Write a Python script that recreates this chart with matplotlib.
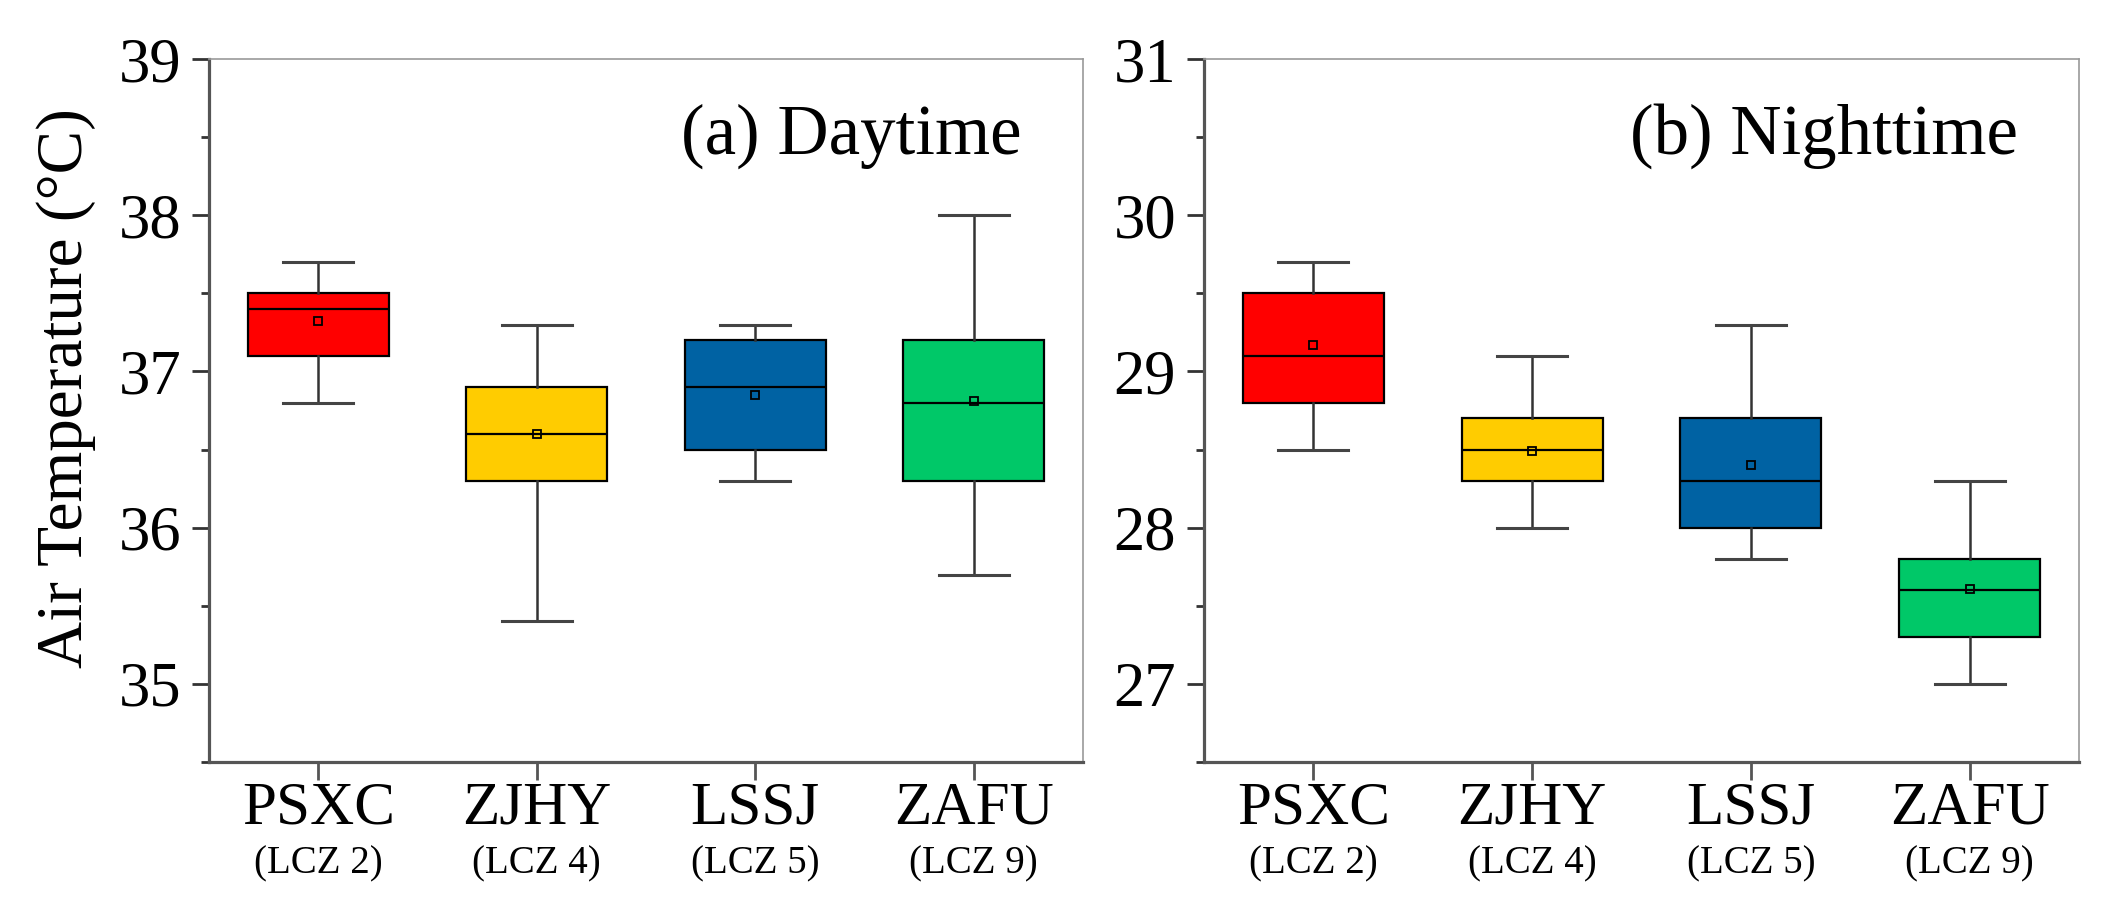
import numpy as np
import matplotlib
matplotlib.use('Agg')
import matplotlib.pyplot as plt
from matplotlib.ticker import MultipleLocator
from matplotlib.transforms import blended_transform_factory

sites = ['PSXC', 'ZJHY', 'LSSJ', 'ZAFU']
lcz = ['(LCZ 2)', '(LCZ 4)', '(LCZ 5)', '(LCZ 9)']
colors = ['#ff0000', '#ffcc00', '#0062a3', '#00c868']

# daytime box statistics (deg C)
day_low = [36.8, 35.4, 36.3, 35.7]
day_q1 = [37.1, 36.3, 36.5, 36.3]
day_med = [37.4, 36.6, 36.9, 36.8]
day_q3 = [37.5, 36.9, 37.2, 37.2]
day_high = [37.7, 37.3, 37.3, 38.0]
day_mean = [37.32, 36.60, 36.85, 36.81]

# nighttime box statistics (deg C)
night_low = [28.5, 28.0, 27.8, 27.0]
night_q1 = [28.8, 28.3, 28.0, 27.3]
night_med = [29.1, 28.5, 28.3, 27.6]
night_q3 = [29.5, 28.7, 28.7, 27.8]
night_high = [29.7, 29.1, 29.3, 28.3]
night_mean = [29.17, 28.49, 28.40, 27.61]

plt.rcParams['font.family'] = ['Liberation Serif', 'DejaVu Serif']


def make_stats(low, q1, med, q3, high, mean):
    stats = []
    for i in range(len(low)):
        stats.append({'whislo': low[i], 'q1': q1[i], 'med': med[i], 'q3': q3[i],
                      'whishi': high[i], 'mean': mean[i], 'fliers': []})
    return stats


def draw_panel(ax, stats, ylim, title):
    pos = np.arange(1, len(stats) + 1)
    bp = ax.bxp(stats, positions=pos, widths=0.645, capwidths=0.32,
                patch_artist=True, showmeans=True, showfliers=False,
                boxprops=dict(edgecolor='black', linewidth=1.6),
                medianprops=dict(color='black', linewidth=1.6),
                whiskerprops=dict(color='#333333', linewidth=1.8),
                capprops=dict(color='#444444', linewidth=2.2),
                meanprops=dict(marker='s', markersize=5.5, markerfacecolor='none',
                               markeredgecolor='black', markeredgewidth=1.3))
    for patch, c in zip(bp['boxes'], colors):
        patch.set_facecolor(c)

    ax.set_xlim(0.5, 4.5)
    ax.set_ylim(ylim)
    ax.yaxis.set_major_locator(MultipleLocator(1))
    ax.yaxis.set_minor_locator(MultipleLocator(0.5))
    ax.set_xticks(pos)
    ax.set_xticklabels(sites, fontsize=44)
    ax.tick_params(axis='y', which='major', direction='out', length=12, width=2,
                   color='#333333', labelsize=45, pad=8)
    ax.tick_params(axis='y', which='minor', direction='out', length=6, width=2,
                   color='#333333')
    ax.tick_params(axis='x', which='major', direction='out', length=13, width=2,
                   color='#555555', pad=1)
    for side in ['left', 'bottom']:
        ax.spines[side].set_color('#555555')
        ax.spines[side].set_linewidth(2.3)
    for side in ['top', 'right']:
        ax.spines[side].set_color('#999999')
        ax.spines[side].set_linewidth(1.2)

    trans = blended_transform_factory(ax.transData, ax.transAxes)
    for p, lab in zip(pos, lcz):
        ax.annotate(lab, xy=(p, 0), xycoords=trans, xytext=(0, -80),
                    textcoords='offset points', ha='center', va='baseline',
                    fontsize=28)

    ax.text(0.93, 0.865, title, transform=ax.transAxes, ha='right',
            va='baseline', fontsize=51)


fig = plt.figure(figsize=(21.13, 9.08), dpi=100)
ax1 = fig.add_axes([209 / 2113, 146 / 908, 874 / 2113, 703 / 908])
ax2 = fig.add_axes([1204 / 2113, 146 / 908, 875 / 2113, 703 / 908])

draw_panel(ax1, make_stats(day_low, day_q1, day_med, day_q3, day_high, day_mean),
           (34.5, 39), '(a) Daytime')
draw_panel(ax2, make_stats(night_low, night_q1, night_med, night_q3, night_high, night_mean),
           (26.5, 31), '(b) Nighttime')

fig.text(66 / 2113, 1 - 388 / 908, 'Air Temperature (\u00b0C)', rotation=90,
         ha='center', va='center', fontsize=47)

fig.savefig('out.png', dpi=100)
